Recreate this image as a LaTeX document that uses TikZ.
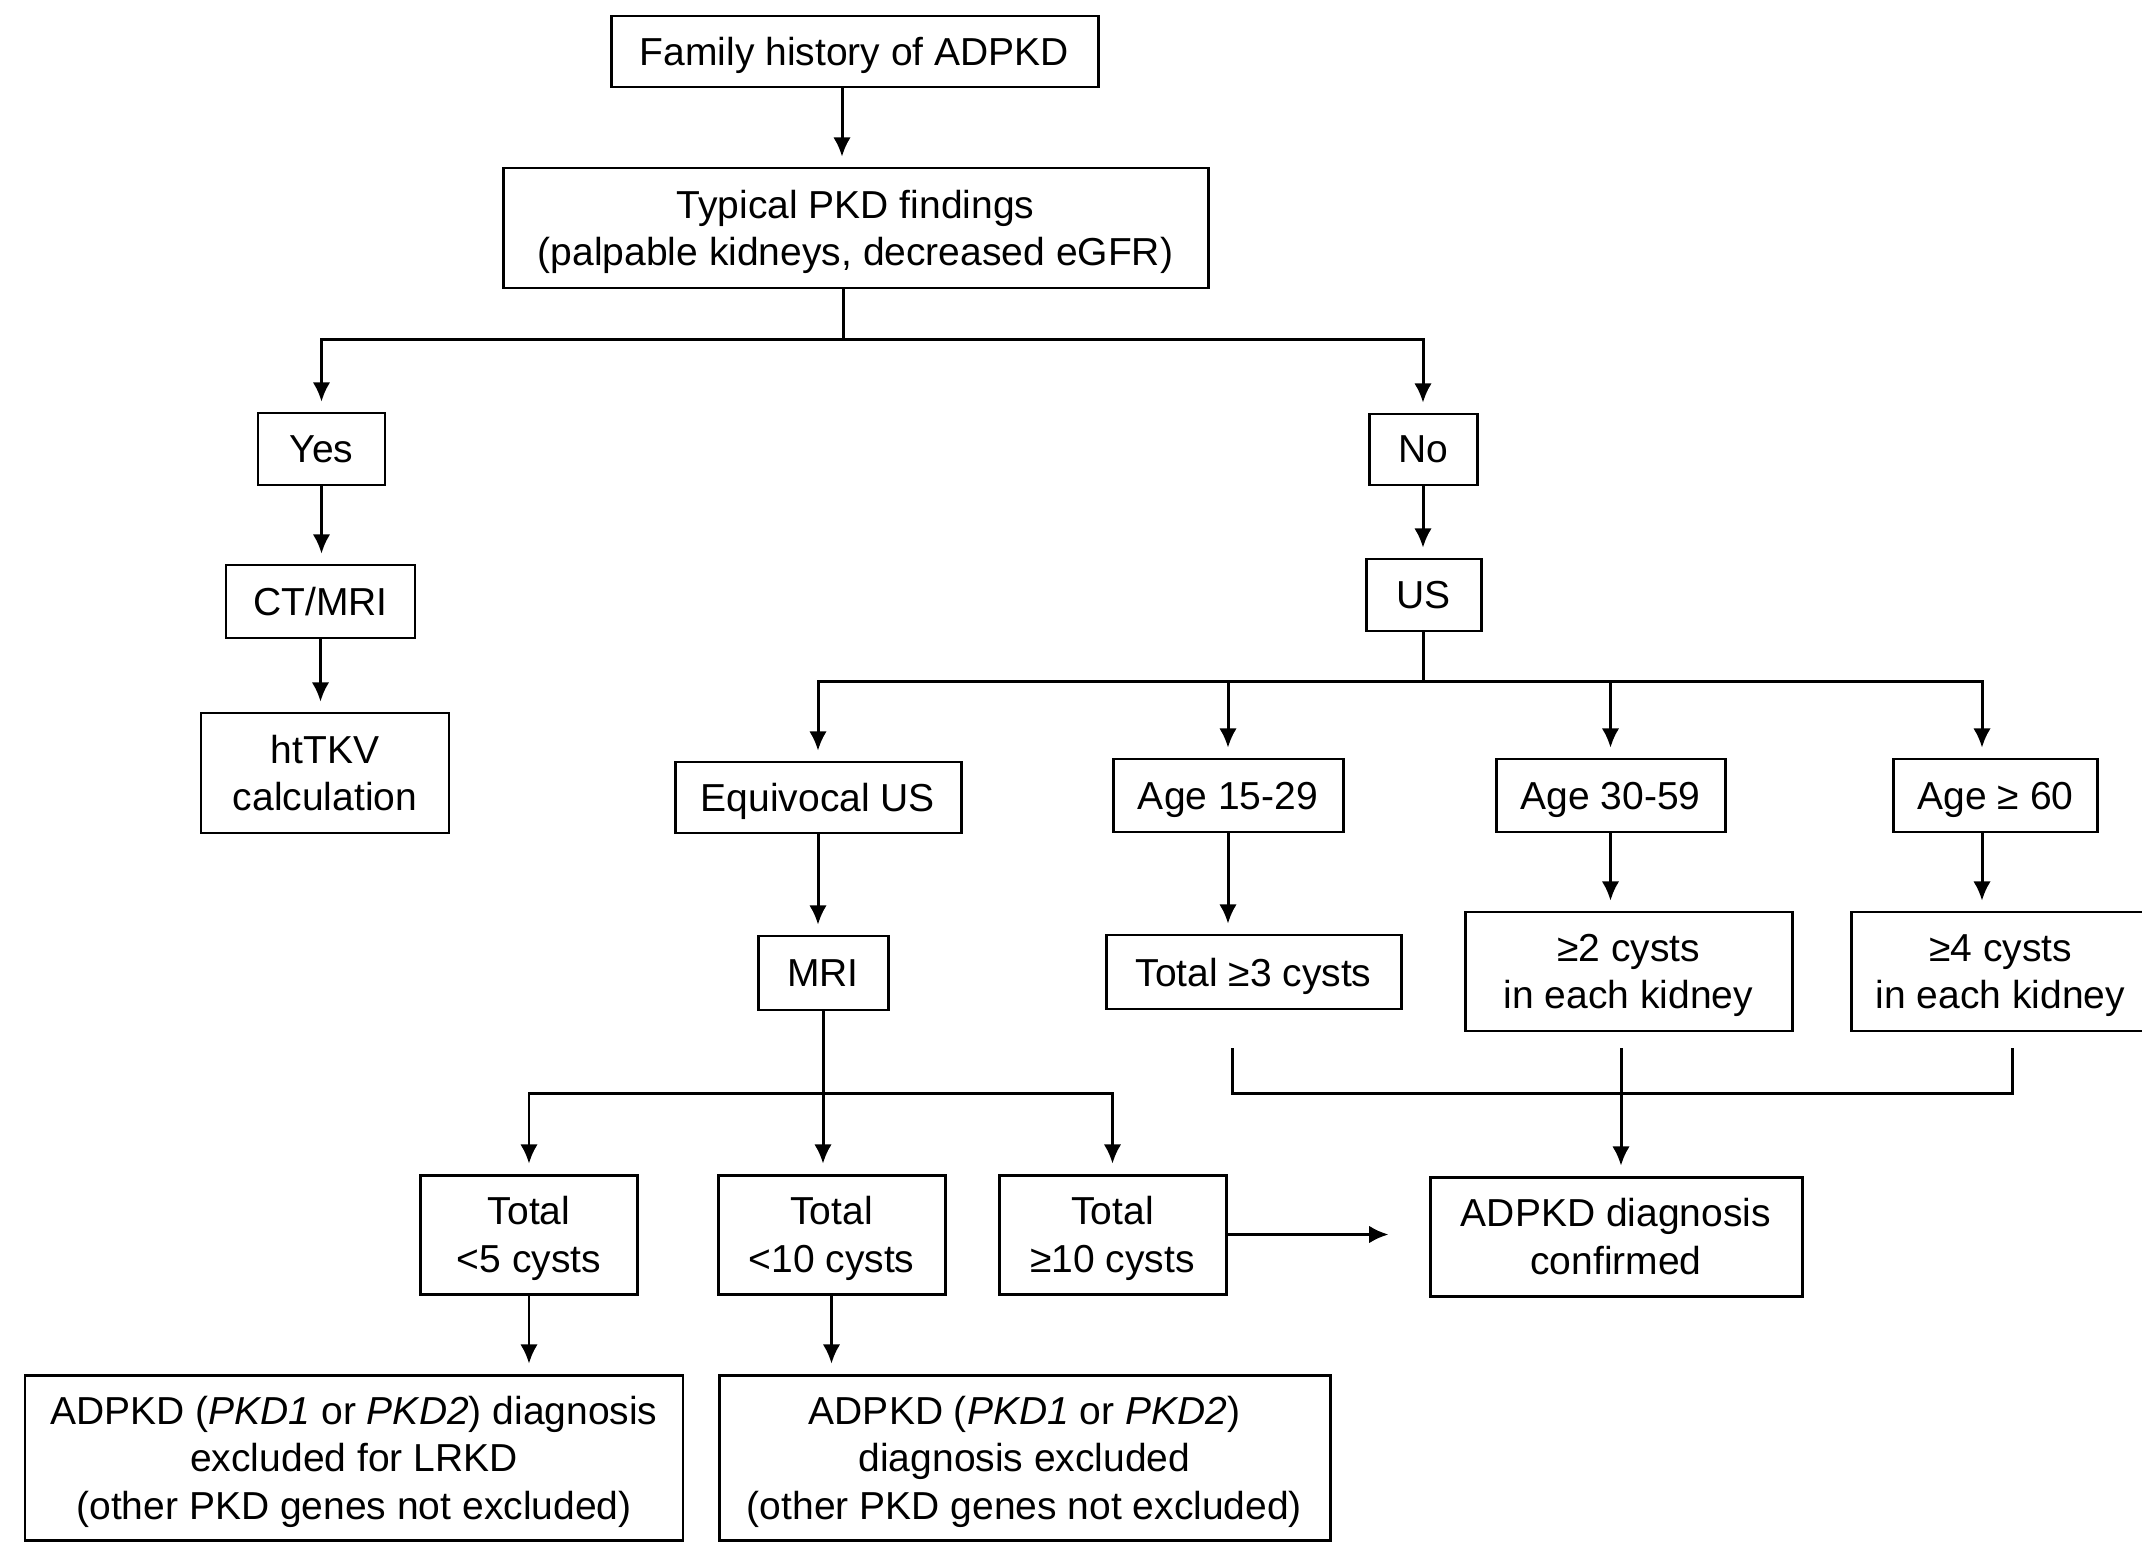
\documentclass[tikz,border=0pt]{standalone}
\usepackage{fontspec}
\setmainfont{Liberation Sans}
\usetikzlibrary{arrows.meta}

\begin{document}
\begin{tikzpicture}[>={Latex[length=5.5pt,width=5pt]}, x=0.1mm, y=-0.1mm,
    box/.style={draw, line width=0.85pt, align=center, inner sep=0pt, text depth=0pt,
        font=\fontsize{11.1}{13.5}\selectfont},
    conn/.style={line width=0.85pt},
    arr/.style={conn, ->, shorten >=2.8pt}]
    \useasboundingbox (0,0) rectangle (2142,1543);

    % Phần trên
    \node[box, minimum width=48.7mm, minimum height=7.1mm] (fam) at (854.5,51.5) {Family history of ADPKD};
    \node[box, minimum width=70.5mm, minimum height=12mm] (typ) at (855.5,228) {Typical PKD findings\\(palpable kidneys, decreased eGFR)};

    % Nhánh trái
    \node[box, minimum width=12.7mm, minimum height=7.2mm] (yes) at (321.5,449) {Yes};
    \node[box, minimum width=18.9mm, minimum height=7.3mm] (ct) at (320.5,601.5) {CT/MRI};
    \node[box, minimum width=24.8mm, minimum height=12mm] (httkv) at (325,773) {htTKV\\calculation};

    % Nhánh phải
    \node[box, minimum width=10.8mm, minimum height=7.1mm] (no) at (1423,449.5) {No};
    \node[box, minimum width=11.5mm, minimum height=7.2mm] (us) at (1423.5,595) {US};
    \node[box, minimum width=28.6mm, minimum height=7.1mm] (equiv) at (818,797.5) {Equivocal US};
    \node[box, minimum width=23mm, minimum height=7.3mm] (age1) at (1228,795.5) {Age 15-29};
    \node[box, minimum width=22.9mm, minimum height=7.3mm] (age2) at (1610.5,795.5) {Age 30-59};
    \node[box, minimum width=20.4mm, minimum height=7.3mm] (age3) at (1995.5,795.5) {Age ≥ 60};
    \node[box, minimum width=13mm, minimum height=7.4mm] (mri) at (823,973) {MRI};
    \node[box, minimum width=29.5mm, minimum height=7.4mm] (tot3) at (1253.5,972) {Total ≥3 cysts};
    \node[box, minimum width=32.7mm, minimum height=11.9mm] (cyst2) at (1628.5,971.5) {≥2 cysts\\in each kidney};
    \node[box, minimum width=29.9mm, minimum height=11.9mm] (cyst4) at (2000.5,971.5) {≥4 cysts\\in each kidney};

    % Kết quả MRI
    \node[box, minimum width=21.7mm, minimum height=11.9mm] (lt5) at (529,1234.5) {Total\\<5 cysts};
    \node[box, minimum width=22.7mm, minimum height=11.9mm] (lt10) at (831.5,1234.5) {Total\\<10 cysts};
    \node[box, minimum width=22.7mm, minimum height=11.9mm] (ge10) at (1112.5,1234.5) {Total\\≥10 cysts};
    \node[box, minimum width=37.2mm, minimum height=11.9mm] (conf) at (1616,1236.5) {ADPKD diagnosis\\confirmed};
    \node[box, minimum width=65.8mm, minimum height=16.5mm] (exl) at (354,1457.5) {ADPKD (\textit{PKD1} or \textit{PKD2}) diagnosis\\excluded for LRKD\\(other PKD genes not excluded)};
    \node[box, minimum width=61.1mm, minimum height=16.5mm] (exr) at (1024.5,1457.5) {ADPKD (\textit{PKD1} or \textit{PKD2})\\diagnosis excluded\\(other PKD genes not excluded)};

    % Mũi tên
    \draw[arr] ([xshift=-1.25mm]fam.south) -- ([xshift=-1.25mm]fam.south |- typ.north);
    \draw[conn] ([xshift=-1.25mm]typ.south) -- ++(0,50) coordinate (tb);
    \draw[arr] (tb) -| (yes.north);
    \draw[arr] (tb) -| (no.north);
    \draw[arr] (yes.south) -- (yes.south |- ct.north);
    \draw[arr] (ct.south) -- (ct.south |- httkv.north);
    \draw[arr] (no.south) -- (no.south |- us.north);
    \draw[conn] (us.south) -- ++(0,49) coordinate (ub);
    \draw[arr] (ub) -| (equiv.north);
    \draw[arr] (ub) -| (age1.north);
    \draw[arr] (ub) -| (age2.north);
    \draw[arr] (ub) -| ([xshift=-1.35mm]age3.north);
    \draw[arr] (equiv.south) -- (equiv.south |- mri.north);
    \draw[arr] (age1.south) -- (age1.south |- tot3.north);
    \draw[arr] (age2.south) -- (age2.south |- cyst2.north);
    \draw[arr] ([xshift=-1.35mm]age3.south) -- ([xshift=-1.35mm]age3.south |- cyst4.north);

    \coordinate (mb) at (mri.south |- 0,1093.5);
    \draw[arr] (mri.south) -- (mri.south |- lt10.north);
    \draw[arr] (mb) -| (lt5.north);
    \draw[arr] (mb) -| (ge10.north);
    \draw[arr] (lt5.south) -- (lt5.south |- exl.north);
    \draw[arr] (lt10.south) -- (lt10.south |- exr.north);
    \draw[arr, shorten >=4mm] (ge10.east) -- (ge10.east -| conf.west);

    % Ngoặc gom các tiêu chí
    \coordinate (k1) at (1232,1048);
    \coordinate (k2) at (1621,1048);
    \coordinate (k3) at (2012,1048);
    \draw[conn] (k1) -- ++(0,45.5) -| (k3);
    \draw[arr] (k2) -- (k2 |- conf.north);
\end{tikzpicture}
\end{document}
